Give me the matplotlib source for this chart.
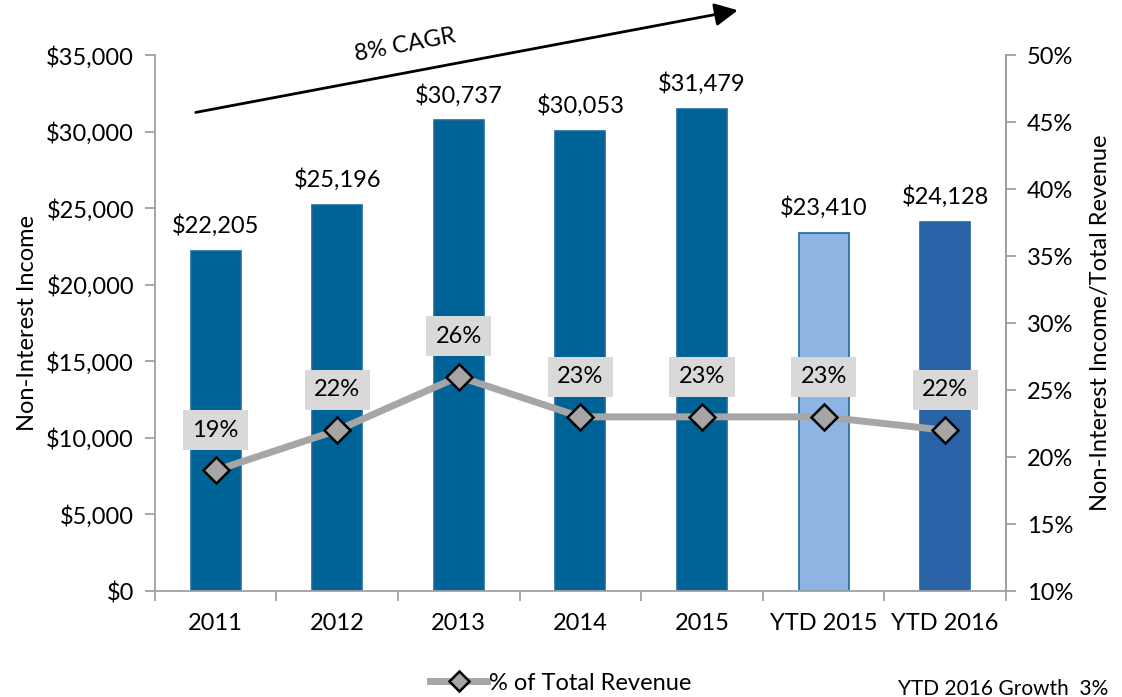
import matplotlib.pyplot as plt
import numpy as np

plt.rcParams['font.family'] = ['Lato', 'DejaVu Sans']

categories = ["2011", "2012", "2013", "2014", "2015", "YTD 2015", "YTD 2016"]
income = [22205, 25196, 30737, 30053, 31479, 23410, 24128]
pct_revenue = [19, 22, 26, 23, 23, 23, 22]
bar_colors = ["#006398", "#006398", "#006398", "#006398", "#006398", "#8DB4E2", "#2A62A8"]

fig = plt.figure(figsize=(11.22, 6.97), dpi=100)
ax = fig.add_axes([0.138, 0.152, 0.7586, 0.769])
x = np.arange(len(categories))

# bars with $ labels above
ax.bar(x, income, width=0.41, color=bar_colors, edgecolor="#1F6A9E", linewidth=1.2, zorder=2)
for xi, v in zip(x, income):
    ax.annotate(f"${v:,}", (xi, v), xytext=(0, 10), textcoords="offset points",
                ha="center", va="bottom", fontsize=17)

ax.set_xlim(-0.5, len(categories) - 0.5)
ax.set_ylim(0, 35000)
ax.set_yticks(range(0, 35001, 5000))
ax.set_yticklabels([f"${v:,}" for v in range(0, 35001, 5000)], fontsize=17)
ax.set_xticks(x)
ax.set_xticklabels(categories, fontsize=17)
ax.set_xticks(np.arange(-0.5, len(categories), 1), minor=True)
ax.tick_params(axis="x", which="major", length=0, pad=16)
ax.tick_params(axis="x", which="minor", length=7, color="#A0A0A0", width=1.3)
ax.tick_params(axis="y", length=7, color="#A0A0A0", width=1.3, pad=8)
ax.set_ylabel("Non-Interest Income", fontsize=17, labelpad=6)
ax.spines["top"].set_visible(False)
for s in ["left", "bottom", "right"]:
    ax.spines[s].set_color("#A0A0A0")
    ax.spines[s].set_linewidth(1.3)

# line on secondary axis
ax2 = ax.twinx()
ax2.plot(x, pct_revenue, color="#A6A6A6", linewidth=5, marker="D", markersize=13,
         markerfacecolor="#A6A6A6", markeredgecolor="black", markeredgewidth=1.8,
         label="% of Total Revenue", zorder=3)
for xi, v in zip(x, pct_revenue):
    ax2.annotate(f"{v}%", (xi, v), xytext=(0, 29), textcoords="offset points",
                 ha="center", va="center", fontsize=17,
                 bbox=dict(boxstyle="square,pad=0.4", facecolor="#D9D9D9", edgecolor="none"))
ax2.set_ylim(10, 50)
ax2.set_yticks(range(10, 51, 5))
ax2.set_yticklabels([f"{v}%" for v in range(10, 51, 5)], fontsize=17)
ax2.tick_params(axis="y", length=7, color="#A0A0A0", width=1.3, pad=8)
ax2.set_ylabel("Non-Interest Income/Total Revenue", fontsize=17, labelpad=12)
for s in ["top", "left", "bottom"]:
    ax2.spines[s].set_visible(False)
ax2.spines["right"].set_color("#A0A0A0")
ax2.spines["right"].set_linewidth(1.3)

# CAGR arrow
fig.patches.append(plt.matplotlib.patches.FancyArrowPatch(
    (0.172, 0.838), (0.66, 0.986), transform=fig.transFigure,
    arrowstyle="-|>,head_length=1.0,head_width=0.5", mutation_scale=14,
    color="black", linewidth=2))
fig.text(0.361, 0.935, "8% CAGR", rotation=10.7, ha="center", va="center", fontsize=17)

# legend and note
fig.legend(loc="center", bbox_to_anchor=(0.5, 0.02), frameon=False, fontsize=17,
           handlelength=2.4, handletextpad=0.1, markerscale=0.8)
fig.text(0.988, 0.012, "YTD 2016 Growth  3%", ha="right", va="center", fontsize=15)

fig.savefig("out.png", dpi=100)
